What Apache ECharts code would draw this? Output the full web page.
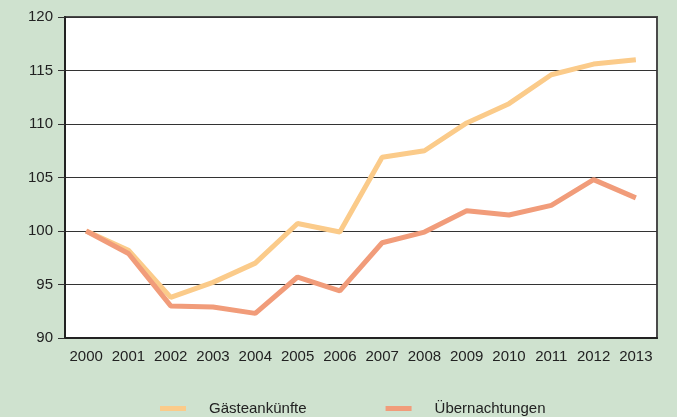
<!DOCTYPE html>
<html>
<head>
<meta charset="utf-8">
<script src="https://cdn.jsdelivr.net/npm/echarts@6/dist/echarts.min.js"></script>
<style>
  html, body { margin: 0; padding: 0; background: #cfe2cf; }
</style>
</head>
<body>
<div id="main" style="width: 677px;height:417px;"></div>
<script>
var years = ['2000', '2001', '2002', '2003', '2004', '2005', '2006', '2007', '2008', '2009', '2010', '2011', '2012', '2013']
var gaeste = [100, 98.2, 93.8, 95.2, 97.0, 100.7, 99.9, 106.9, 107.5, 110.1, 111.9, 114.6, 115.6, 116.0]
var naechte = [100, 97.9, 93.0, 92.9, 92.3, 95.7, 94.4, 98.9, 99.9, 101.9, 101.5, 102.4, 104.8, 103.1]
var yTicks = [90, 95, 100, 105, 110, 115, 120]

var myChart = echarts.init(document.getElementById('main'))
var option = {
  backgroundColor: '#cfe2cf',
  animation: false,
  textStyle: { fontFamily: 'Liberation Sans, Arial, sans-serif' },
  grid: {
    left: 65,
    right: 20,
    top: 17,
    bottom: 79,
    show: true,
    backgroundColor: '#fff',
    borderColor: '#4a4a4a',
    borderWidth: 2
  },
  legend: {
    left: 155,
    top: 396,
    icon: 'rect',
    itemWidth: 26,
    itemHeight: 5,
    itemGap: 79,
    textStyle: { color: '#222', fontSize: 15, padding: [0, 0, 0, 18] },
    data: ['Gästeankünfte', 'Übernachtungen']
  },
  xAxis: {
    type: 'category',
    data: years,
    boundaryGap: true,
    axisLine: { lineStyle: { color: '#222', width: 2 } },
    axisTick: { show: false },
    axisLabel: { color: '#222', fontSize: 15, margin: 11, interval: 0, hideOverlap: false }
  },
  yAxis: {
    type: 'value',
    min: yTicks[0],
    max: yTicks[yTicks.length - 1],
    interval: 5,
    axisLine: { show: true, lineStyle: { color: '#222', width: 2 } },
    axisTick: { show: true, length: 7, lineStyle: { color: '#333' } },
    axisLabel: { color: '#222', fontSize: 15, margin: 12 },
    splitLine: { lineStyle: { color: '#333', width: 1 } }
  },
  series: [
    {
      name: 'Gästeankünfte',
      type: 'line',
      data: gaeste,
      showSymbol: false,
      color: '#fbcb8a',
      lineStyle: { width: 5, color: '#fbcb8a' }
    },
    {
      name: 'Übernachtungen',
      type: 'line',
      data: naechte,
      showSymbol: false,
      color: '#f19c7a',
      lineStyle: { width: 5, color: '#f19c7a' }
    }
  ]
}
myChart.setOption(option)
</script>
</body>
</html>
